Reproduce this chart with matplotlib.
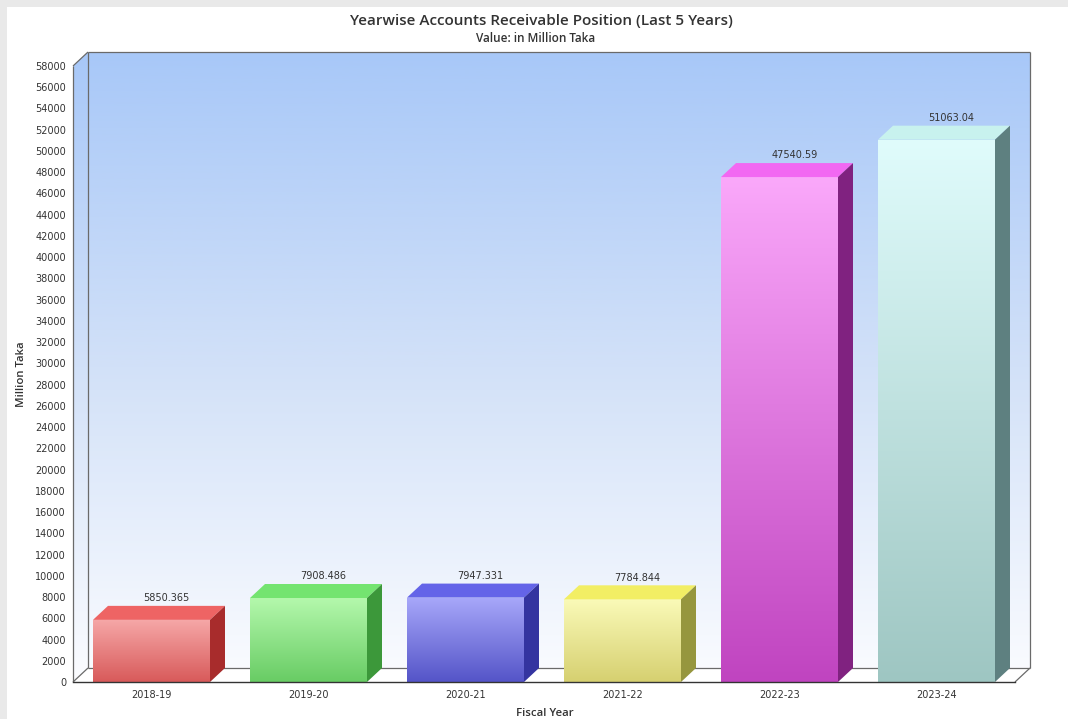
import numpy as np
import matplotlib
matplotlib.use("Agg")
import matplotlib.pyplot as plt
from matplotlib.patches import Polygon, Rectangle
from matplotlib.colors import to_rgb

# ---- data ----
categories = ["2018-19", "2019-20", "2020-21", "2021-22", "2022-23", "2023-24"]
values = [5850.365, 7908.486, 7947.331, 7784.844, 47540.59, 51063.04]
value_labels = ["5850.365", "7908.486", "7947.331", "7784.844", "47540.59", "51063.04"]
y_ticks = list(range(0, 58001, 2000))

# colours per bar: (front top, front bottom, top face, side face)
bar_colors = [
    ("#f6a8a8", "#d85a5a", "#ee6464", "#a82c2c"),
    ("#b4f8ac", "#68cc64", "#74e470", "#3c983a"),
    ("#a8a8fa", "#5454c8", "#6464e8", "#3434a0"),
    ("#fafab8", "#d6d070", "#f2ee64", "#96963e"),
    ("#faa8fa", "#c044c0", "#f268f2", "#802280"),
    ("#e0fcfc", "#9ec6c2", "#c8f2ee", "#5e8080"),
]

W, H = 1068, 719
fig = plt.figure(figsize=(W / 100, H / 100), dpi=100, facecolor="white")

# textured outer border strips
fig.patches.append(Rectangle((0, 0), 7 / W, 1, transform=fig.transFigure,
                             facecolor="#e9e9e9", edgecolor="none", zorder=-5))
fig.patches.append(Rectangle((0, 1 - 7 / H), 1, 7 / H, transform=fig.transFigure,
                             facecolor="#e9e9e9", edgecolor="none", zorder=-5))

# front plane of the 3D box
left_px, right_px = 73, 1015
top_px, bot_px = 66, 682
ax = fig.add_axes([left_px / W, (H - bot_px) / H,
                   (right_px - left_px) / W, (bot_px - top_px) / H])
ax.set_facecolor("none")
YMAX = 58000
x0, x1 = -0.5, len(categories) - 0.5
ax.set_xlim(x0, x1)
ax.set_ylim(0, YMAX)
for s in ax.spines.values():
    s.set_visible(False)

# depth in data units
px_x = (right_px - left_px) / (x1 - x0)
px_y = (bot_px - top_px) / YMAX
DX, DY = 15 / px_x, 14 / px_y

# back wall + left wall gradient
top_c = np.array(to_rgb("#a8c8f8"))
mid_c = np.array(to_rgb("#d2e1f8"))
bot_c = np.array(to_rgb("#fbfcff"))
n = 256
t = np.linspace(0, 1, n)[:, None]
grad = np.where(t < 0.5, top_c + (mid_c - top_c) * (t / 0.5),
                mid_c + (bot_c - mid_c) * ((t - 0.5) / 0.5))
grad = grad[:, None, :]
ax.imshow(grad, extent=(x0, x1 + DX, 0, YMAX + DY), aspect="auto",
          origin="upper", zorder=0, clip_on=False)
# mask the corners outside the walls
ax.add_patch(Polygon([(x0, YMAX), (x0, YMAX + DY * 1.2), (x0 + DX, YMAX + DY * 1.2),
                      (x0 + DX, YMAX + DY)], closed=True, facecolor="white",
                     edgecolor="none", zorder=0.5, clip_on=False))
ax.add_patch(Polygon([(x1, 0), (x1 + DX * 1.2, 0), (x1 + DX * 1.2, DY), (x1 + DX, DY)],
                     closed=True, facecolor="white", edgecolor="none", zorder=0.5,
                     clip_on=False))

# floor
ax.add_patch(Polygon([(x0, 0), (x1, 0), (x1 + DX, DY), (x0 + DX, DY)], closed=True,
                     facecolor="white", edgecolor="none", zorder=0.5, clip_on=False))

lc = "#6a6a6a"
lines = [
    ([x0, x0], [0, YMAX]),
    ([x0, x0 + DX], [YMAX, YMAX + DY]),
    ([x0 + DX, x1 + DX], [YMAX + DY, YMAX + DY]),
    ([x1 + DX, x1 + DX], [YMAX + DY, DY]),
    ([x0 + DX, x0 + DX], [DY, YMAX + DY]),
    ([x0 + DX, x1 + DX], [DY, DY]),
    ([x0, x0 + DX], [0, DY]),
    ([x1, x1 + DX], [0, DY]),
]
for xs, ys in lines:
    ax.plot(xs, ys, color=lc, lw=0.9, zorder=1, clip_on=False, solid_capstyle="butt")

# bars
bw = 117 / px_x
for i, (v, lab) in enumerate(zip(values, value_labels)):
    ft, fb, tc, sc = bar_colors[i]
    bl, br = i - bw / 2, i + bw / 2
    bars = ax.bar(i, v, width=bw, bottom=0, color="none", edgecolor="none", zorder=3)
    ct, cb = np.array(to_rgb(ft)), np.array(to_rgb(fb))
    g = (ct + (cb - ct) * t)[:, None, :]
    bim = ax.imshow(g, extent=(bl, br, 0, v), aspect="auto", origin="upper", zorder=3)
    bim.set_clip_path(bars.patches[0])
    # top face
    ax.add_patch(Polygon([(bl, v), (br, v), (br + DX, v + DY), (bl + DX, v + DY)],
                         closed=True, facecolor=tc, edgecolor="none", zorder=3.1,
                         clip_on=False))
    # side face
    ax.add_patch(Polygon([(br, 0), (br, v), (br + DX, v + DY), (br + DX, DY)],
                         closed=True, facecolor=sc, edgecolor="none", zorder=3.1,
                         clip_on=False))
    ax.text(i + DX, v + DY + 250, lab, ha="center", va="bottom", fontsize=7,
            color="#333333", zorder=5, clip_on=False)

# front floor line
ax.plot([x0, x1], [0, 0], color="#333333", lw=1.0, zorder=4, clip_on=False)

ax.set_xlim(x0, x1)
ax.set_ylim(0, YMAX)

ax.set_yticks(y_ticks)
ax.set_yticklabels([str(v) for v in y_ticks])
ax.set_xticks(range(len(categories)))
ax.set_xticklabels(categories)
ax.tick_params(axis="y", length=0, pad=5, labelsize=7, labelcolor="#333333")
ax.tick_params(axis="x", length=0, pad=6, labelsize=7, labelcolor="#333333")

fig.text(541 / W, 1 - 21 / H, "Yearwise Accounts Receivable Position (Last 5 Years)",
         ha="center", va="center", fontsize=11, fontweight="semibold",
         family="Open Sans", color="#333333")
fig.text(536 / W, 1 - 39 / H, "Value: in Million Taka", ha="center", va="center",
         fontsize=8.5, fontweight="semibold", family="Open Sans", color="#333333")
fig.text(21 / W, 1 - 374 / H, "Million Taka", ha="center", va="center", rotation=90,
         fontsize=8.2, fontweight="semibold", family="Open Sans", color="#333333")
fig.text(545 / W, 1 - 713 / H, "Fiscal Year", ha="center", va="center",
         fontsize=8.2, fontweight="semibold", family="Open Sans", color="#333333")

fig.savefig("out.png", dpi=100, facecolor=fig.get_facecolor())
